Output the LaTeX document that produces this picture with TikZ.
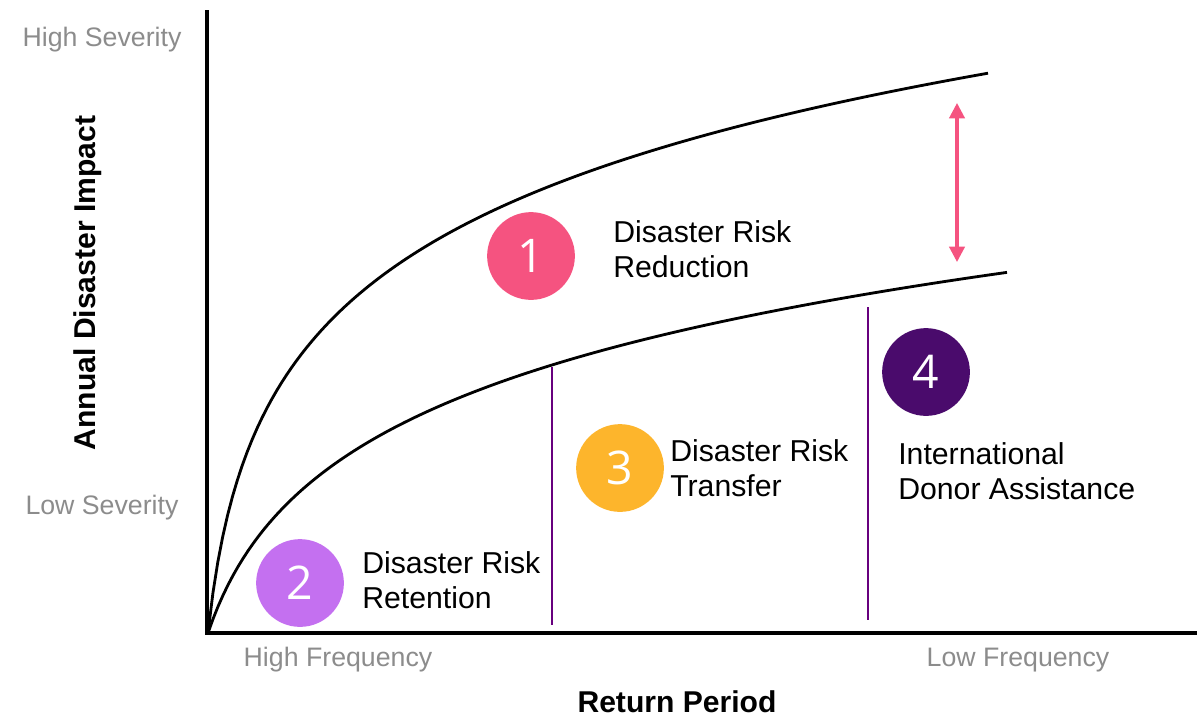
\documentclass[tikz,border=0pt]{standalone}
\usepackage{fontspec}
\setmainfont{Liberation Sans}
\newfontfamily\digitfont{Open Sans}
\usetikzlibrary{arrows.meta}
\usetikzlibrary{positioning}

\begin{document}
\begin{tikzpicture}[x=0.025cm, y=-0.025cm,
		numdot/.style = {circle, minimum size = 62.4pt, inner sep = 0pt, text = white, font = \digitfont\fontsize{33}{33}\selectfont},
		zonetext/.style = {anchor = west, align = left, inner sep = 0pt, font = \fontsize{21.5}{24.8}\selectfont},
		scaletext/.style = {text = black!45, inner sep = 0pt, font = \fontsize{19}{19}\selectfont},
		axistext/.style = {inner sep = 0pt, font = \bfseries\fontsize{21.4}{21.4}\selectfont},
		curve/.style = {line width = 2pt, line join = round},
		divider/.style = {draw = purple!60!blue!90!black, line width = 0.9pt}]
		
		\useasboundingbox (0,0) rectangle (1200,718);
		
		\definecolor{drrpink}{HTML}{F55380}
		\definecolor{drrviolet}{HTML}{C470F0}
		\definecolor{drrorange}{HTML}{FDB52C}
		\definecolor{drrpurple}{HTML}{4A0B6C}
		
		% axes
		\coordinate (origin) at (207,633);
		\coordinate (ytop) at (207,10);
		\coordinate (xend) at (1197,633);
		\draw[line width = 2.2pt] (ytop) -- (origin) -- (xend);
		
		% curves
		\draw[curve] plot[domain = 0:780, samples = 160] ({208+\x}, {633-141*ln(1+\x/15)});
		\draw[curve] plot[domain = 0:799, samples = 160] ({208+\x}, {633-118.5*ln(1+\x/40)});
		
		% dividers
		\coordinate (d1top) at (552,367);
		\coordinate (d1bot) at (552,625);
		\coordinate (d2top) at (868,307);
		\coordinate (d2bot) at (868,620);
		\path
		(d1top) edge[divider] (d1bot)
		(d2top) edge[divider] (d2bot)
		;
		
		% gap arrow
		\coordinate (gaptop) at (957,103);
		\coordinate (gapbot) at (957,262);
		\draw[drrpink, line width = 2.2pt, {Triangle[width=11pt,length=11pt]}-{Triangle[width=11pt,length=11pt]}] (gaptop) -- (gapbot);
		
		% numbered zones
		\node[numdot, fill = drrpink] at (531,256) (one) {1};
		\node[numdot, fill = drrviolet] at (300,583) (two) {2};
		\node[numdot, fill = drrorange] at (620,468) (three) {3};
		\node[numdot, fill = drrpurple] at (926,372) (four) {4};
		
		\node[zonetext] at (613,249) (reduction) {Disaster Risk\\Reduction};
		\node[zonetext] at (362,580) (retention) {Disaster Risk\\Retention};
		\node[zonetext] at (670,468) (transfer) {Disaster Risk\\Transfer};
		\node[zonetext] at (898,471) (donor) {International\\Donor Assistance};
		
		% axis labels
		\node[scaletext] at (102,40) (hisev) {High Severity};
		\node[scaletext] at (102,508) (losev) {Low Severity};
		\node[scaletext] at (338,660) (hifreq) {High Frequency};
		\node[scaletext] at (1018,660) (lofreq) {Low Frequency};
		\node[axistext] at (677,702) (xlabel) {Return Period};
		\node[axistext, rotate = 90] at (88,283) (ylabel) {Annual Disaster Impact};
		
	\end{tikzpicture}
\end{document}
